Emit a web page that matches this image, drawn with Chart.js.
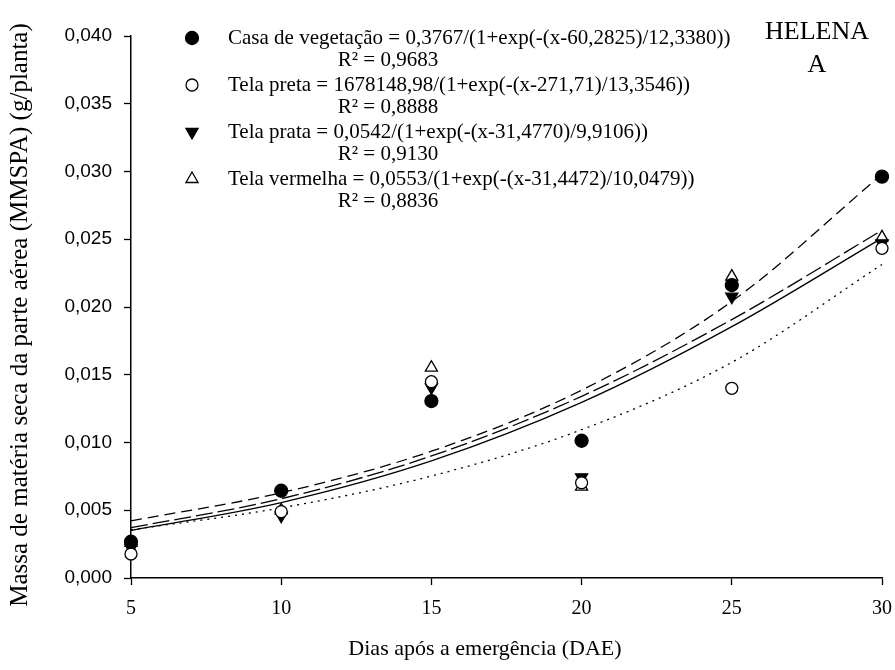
<!DOCTYPE html>
<html>
<head>
<meta charset="utf-8">
<script src="https://cdn.jsdelivr.net/npm/chart.js@4.4.1/dist/chart.umd.min.js"></script>
<style>
  html, body { margin: 0; padding: 0; background: #fff; }
  #wrap { width: 895px; height: 670px; }
</style>
</head>
<body>
<div id="wrap"><canvas id="chart"></canvas></div>
<script>
const days = [5, 10, 15, 20, 25, 30];

// MMSPA medida (g/planta)
const casaVegetacao = [0.00268, 0.00644, 0.01306, 0.01013, 0.02162, 0.02962];
const telaPreta = [0.00177, 0.00490, 0.01449, 0.00703, 0.01400, 0.02433];
const telaPrata = [0.00220, 0.00460, 0.01407, 0.00743, 0.02076, 0.02470];
const telaVermelha = [0.00260, 0.00500, 0.01552, 0.00674, 0.02224, 0.02514];

// curvas ajustadas (logístico) nos mesmos dias
const casaAjuste = [0.004219, 0.006291, 0.009357, 0.013861, 0.020411, 0.029804];
const pretaAjuste = [0.003559, 0.005175, 0.007525, 0.010943, 0.015912, 0.023138];
const prataAjuste = [0.003505, 0.005569, 0.008641, 0.012955, 0.018547, 0.025084];
const vermelhaAjuste = [0.003711, 0.005850, 0.009008, 0.013408, 0.019072, 0.025662];

const equacoes = [
  "Casa de vegetação = 0,3767/(1+exp(-(x-60,2825)/12,3380))",
  "Tela preta = 1678148,98/(1+exp(-(x-271,71)/13,3546))",
  "Tela prata = 0,0542/(1+exp(-(x-31,4770)/9,9106))",
  "Tela vermelha = 0,0553/(1+exp(-(x-31,4472)/10,0479))"
];
const r2 = ["R² = 0,9683", "R² = 0,8888", "R² = 0,9130", "R² = 0,8836"];

const serif = "'Liberation Serif', 'Times New Roman', serif";
const pts = (ys) => days.map((d, i) => ({ x: d, y: ys[i] }));

const markers = [
  { pointStyle: "circle", radius: 6.5, rotation: 0, fill: "#000" },
  { pointStyle: "circle", radius: 6, rotation: 0, fill: "#fff" },
  { pointStyle: "triangle", radius: 7, rotation: 180, fill: "#000" },
  { pointStyle: "triangle", radius: 7, rotation: 0, fill: "#fff" }
];

function scatterSet(label, ys, m) {
  return {
    label: label,
    data: pts(ys),
    showLine: false,
    pointStyle: m.pointStyle,
    pointRotation: m.rotation,
    pointRadius: m.radius,
    pointBackgroundColor: m.fill,
    pointBorderColor: "#000",
    pointBorderWidth: 1.3,
    clip: false,
    order: 0
  };
}

function fitSet(ys, dash) {
  return {
    data: pts(ys),
    showLine: true,
    pointRadius: 0,
    borderColor: "#000",
    borderWidth: 1.3,
    borderDash: dash,
    cubicInterpolationMode: "monotone",
    clip: false,
    order: 1
  };
}

// textos: legenda, identificação e títulos dos eixos
const annotations = {
  id: "annotations",
  afterDraw(chart) {
    const ctx = chart.ctx;
    ctx.save();
    ctx.fillStyle = "#000";
    ctx.textBaseline = "middle";

    const rowY = [38, 85, 132, 179];
    equacoes.forEach((eq, i) => {
      const m = markers[i];
      ctx.fillStyle = m.fill;
      ctx.strokeStyle = "#000";
      ctx.lineWidth = 1.3;
      Chart.helpers.drawPoint(ctx, {
        pointStyle: m.pointStyle, rotation: m.rotation,
        radius: m.radius, borderWidth: 1.3
      }, 192, rowY[i]);
      ctx.fillStyle = "#000";
      ctx.font = "21px " + serif;
      ctx.textAlign = "left";
      ctx.fillText(eq, 228, rowY[i]);
      ctx.textAlign = "center";
      ctx.fillText(r2[i], 388, rowY[i] + 22);
    });

    ctx.font = "26px " + serif;
    ctx.textAlign = "center";
    ctx.fillText("HELENA", 817, 32);
    ctx.fillText("A", 817, 65);

    ctx.font = "22px " + serif;
    ctx.fillText("Dias após a emergência (DAE)", 485, 649);

    ctx.font = "25px " + serif;
    ctx.translate(20, 315);
    ctx.rotate(-Math.PI / 2);
    ctx.fillText("Massa de matéria seca da parte aérea (MMSPA) (g/planta)", 0, 0);
    ctx.restore();
  }
};

new Chart(document.getElementById("chart"), {
  type: "scatter",
  data: {
    datasets: [
      scatterSet("Casa de vegetação", casaVegetacao, markers[0]),
      scatterSet("Tela preta", telaPreta, markers[1]),
      scatterSet("Tela prata", telaPrata, markers[2]),
      scatterSet("Tela vermelha", telaVermelha, markers[3]),
      fitSet(casaAjuste, [11, 6]),
      fitSet(pretaAjuste, [2, 5]),
      fitSet(prataAjuste, []),
      fitSet(vermelhaAjuste, [17, 5])
    ]
  },
  options: {
    responsive: true,
    maintainAspectRatio: false,
    animation: false,
    layout: { autoPadding: false, padding: { left: 0, right: 13, top: 36, bottom: 0 } },
    plugins: {
      legend: { display: false },
      tooltip: { enabled: false }
    },
    scales: {
      x: {
        type: "linear",
        min: 5,
        max: 30,
        afterFit: (s) => { s.height = 92; s.paddingLeft = 0; s.paddingRight = 0; },
        ticks: {
          stepSize: 5,
          color: "#000",
          padding: 12,
          font: { family: serif, size: 20 }
        },
        grid: { drawOnChartArea: false, drawTicks: true, tickLength: 7, color: "#000", tickWidth: 1.3 },
        border: { color: "#000", width: 1.5 }
      },
      y: {
        min: 0,
        max: 0.04,
        afterFit: (s) => { s.width = 131; s.paddingTop = 0; s.paddingBottom = 0; },
        ticks: {
          stepSize: 0.005,
          color: "#000",
          padding: 12,
          font: { family: "'Liberation Sans', Arial, sans-serif", size: 19 },
          callback: (v) => v.toFixed(3).replace(".", ",")
        },
        grid: { drawOnChartArea: false, drawTicks: true, tickLength: 7, color: "#000", tickWidth: 1.3 },
        border: { color: "#000", width: 1.5 }
      }
    }
  },
  plugins: [annotations]
});
</script>
</body>
</html>
